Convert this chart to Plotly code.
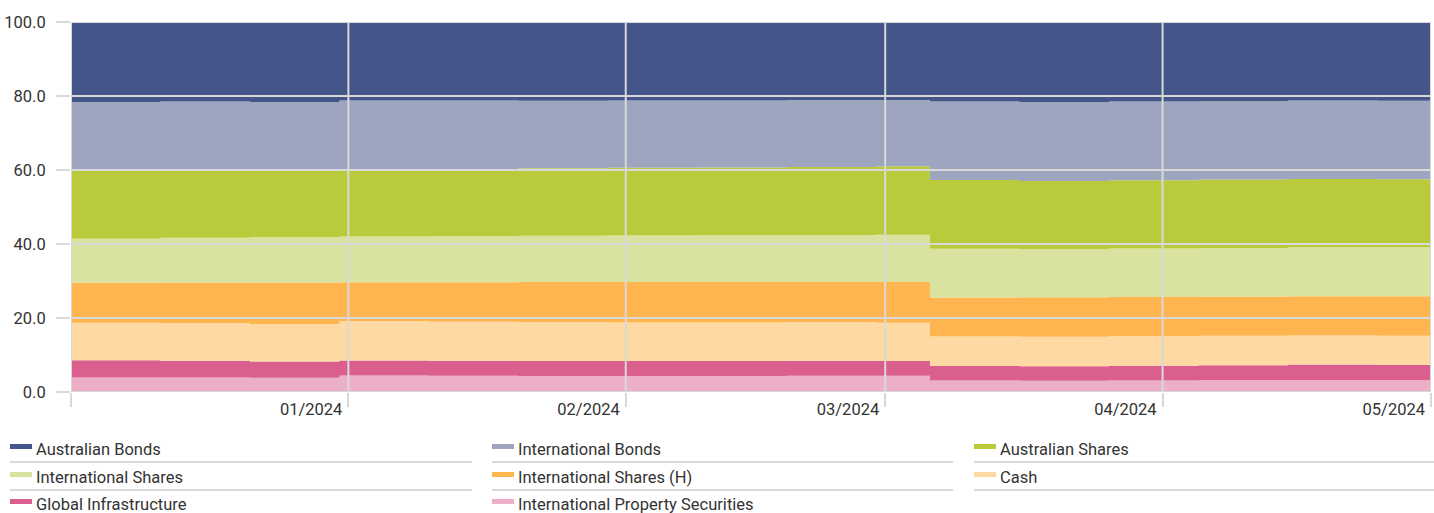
import plotly.graph_objects as go

dates = ["2023-12-01", "2023-12-11", "2023-12-21", "2023-12-31", "2024-01-10", "2024-01-20",
         "2024-01-30", "2024-02-09", "2024-02-19", "2024-02-29", "2024-03-06", "2024-03-16",
         "2024-03-26", "2024-04-05", "2024-04-15", "2024-04-25", "2024-05-01"]

intl_property = [3.95, 3.9, 3.85, 4.45, 4.4, 4.35, 4.3, 4.3, 4.4, 4.4, 3.1, 3.05, 3.1, 3.15, 3.2, 3.15, 3.15]
global_infra = [4.65, 4.55, 4.4, 4.05, 4.05, 4.05, 4.1, 4.1, 4.05, 4.0, 3.9, 3.9, 4.0, 4.05, 4.2, 4.15, 4.15]
cash = [10.1, 10.15, 10.15, 10.6, 10.55, 10.5, 10.4, 10.4, 10.45, 10.3, 8.0, 7.95, 8.0, 8.0, 7.9, 7.9, 7.9]
intl_shares_h = [10.85, 11.0, 11.2, 10.55, 10.65, 10.8, 10.95, 10.95, 10.8, 11.0, 10.55, 10.7, 10.6, 10.6, 10.6, 10.65, 10.65]
intl_shares = [11.85, 12.1, 12.3, 12.35, 12.45, 12.5, 12.55, 12.6, 12.7, 12.8, 13.15, 13.0, 13.1, 13.1, 13.2, 13.25, 13.25]
aus_shares = [18.6, 18.4, 18.3, 18.2, 18.2, 18.3, 18.3, 18.35, 18.4, 18.5, 18.6, 18.4, 18.4, 18.5, 18.5, 18.4, 18.4]
intl_bonds = [18.4, 18.4, 18.2, 18.6, 18.5, 18.2, 18.2, 18.1, 18.1, 17.9, 21.2, 21.3, 21.3, 21.2, 21.2, 21.2, 21.2]
aus_bonds = [21.6, 21.5, 21.6, 21.2, 21.2, 21.3, 21.2, 21.2, 21.1, 21.1, 21.5, 21.7, 21.5, 21.4, 21.2, 21.3, 21.3]

# legend order (row-major, 3 columns)
legend_names = ["Australian Bonds", "International Bonds", "Australian Shares",
                "International Shares", "International Shares (H)", "Cash",
                "Global Infrastructure", "International Property Securities"]
legend_colors = ["#44558a", "#9ea6bf", "#b9ca3a", "#d9e39f", "#ffb54f", "#fed9a3", "#da5f8f", "#ecafc7"]

# stacking order bottom -> top
stack_names = ["International Property Securities", "Global Infrastructure", "Cash",
               "International Shares (H)", "International Shares", "Australian Shares",
               "International Bonds", "Australian Bonds"]
stack_values = [intl_property, global_infra, cash, intl_shares_h, intl_shares, aus_shares, intl_bonds, aus_bonds]

x_tickvals = ["2023-12-01", "2024-01-01", "2024-02-01", "2024-03-01", "2024-04-01", "2024-05-01"]
x_ticktext = ["", "01/2024", "02/2024", "03/2024", "04/2024", "05/2024"]
y_tickvals = [0, 20, 40, 60, 80, 100]

color_of = dict(zip(legend_names, legend_colors))

W, H = 1434, 513
ML, MR, MT, MB = 71, 3, 22, 121
PW, PH = W - ML - MR, H - MT - MB
FONT = "Roboto, sans-serif"
GRID = "#d9d9d9"
TXT = "#333333"


def px(x):
    return (x - ML) / PW


def py(y):
    return (H - MB - y) / PH


fig = go.Figure()
for name, vals in zip(stack_names, stack_values):
    fig.add_trace(go.Scatter(
        x=dates, y=vals, name=name, mode="lines", stackgroup="one",
        line=dict(width=0, shape="hv", color=color_of[name]),
        fillcolor=color_of[name], showlegend=False,
    ))

shapes = []
for v in y_tickvals:
    shapes.append(dict(type="line", xref="paper", yref="y", x0=0, x1=1, y0=v, y1=v,
                       line=dict(color=GRID, width=2), layer="above"))
for d in x_tickvals:
    shapes.append(dict(type="line", xref="x", yref="paper", x0=d, x1=d, y0=0, y1=1,
                       line=dict(color=GRID, width=2), layer="above"))

annotations = []
col_x = [10, 492, 974]
col_w = [462, 461, 460]
row_y = [449, 477, 504]
for i, (name, col) in enumerate(zip(legend_names, legend_colors)):
    r, c = divmod(i, 3)
    x0 = col_x[c]
    yc = row_y[r]
    shapes.append(dict(type="rect", xref="paper", yref="paper",
                       x0=px(x0), x1=px(x0 + 22), y0=py(yc - 5), y1=py(yc),
                       fillcolor=col, line=dict(width=0)))
    annotations.append(dict(xref="paper", yref="paper", x=px(x0 + 24), y=py(yc),
                            text=name, showarrow=False, xanchor="left", yanchor="middle",
                            font=dict(family=FONT, size=16.5, color=TXT)))
for r in range(2):
    for c in range(3):
        ly = row_y[r] + 13
        shapes.append(dict(type="line", xref="paper", yref="paper",
                           x0=px(col_x[c]), x1=px(col_x[c] + col_w[c]), y0=py(ly), y1=py(ly),
                           line=dict(color=GRID, width=2)))

fig.update_layout(
    width=W, height=H,
    margin=dict(l=ML, r=MR, t=MT, b=MB, autoexpand=False),
    paper_bgcolor="white", plot_bgcolor="white",
    font=dict(family=FONT, size=16, color=TXT),
    shapes=shapes, annotations=annotations,
    showlegend=False,
    xaxis=dict(type="date", range=["2023-12-01", "2024-05-01"], tickvals=x_tickvals,
               ticktext=x_ticktext, showgrid=False, zeroline=False, showline=False,
               ticks="outside", ticklen=14, tickwidth=2, tickcolor=GRID, automargin=False,
               ticklabelposition="outside left", ticklabelstandoff=2, ticklabelshift=-5,
               tickfont=dict(size=16.5, color=TXT)),
    yaxis=dict(range=[0, 100], tickvals=y_tickvals, tickformat=".1f", showgrid=False,
               zeroline=False, showline=False, ticks="outside", ticklen=14, tickwidth=2,
               tickcolor=GRID, automargin=False, ticklabelstandoff=7,
               tickfont=dict(size=16.5, color=TXT)),
)

fig.write_html("out.html", config={"displayModeBar": False},
               post_script="document.body.style.margin='0';")
